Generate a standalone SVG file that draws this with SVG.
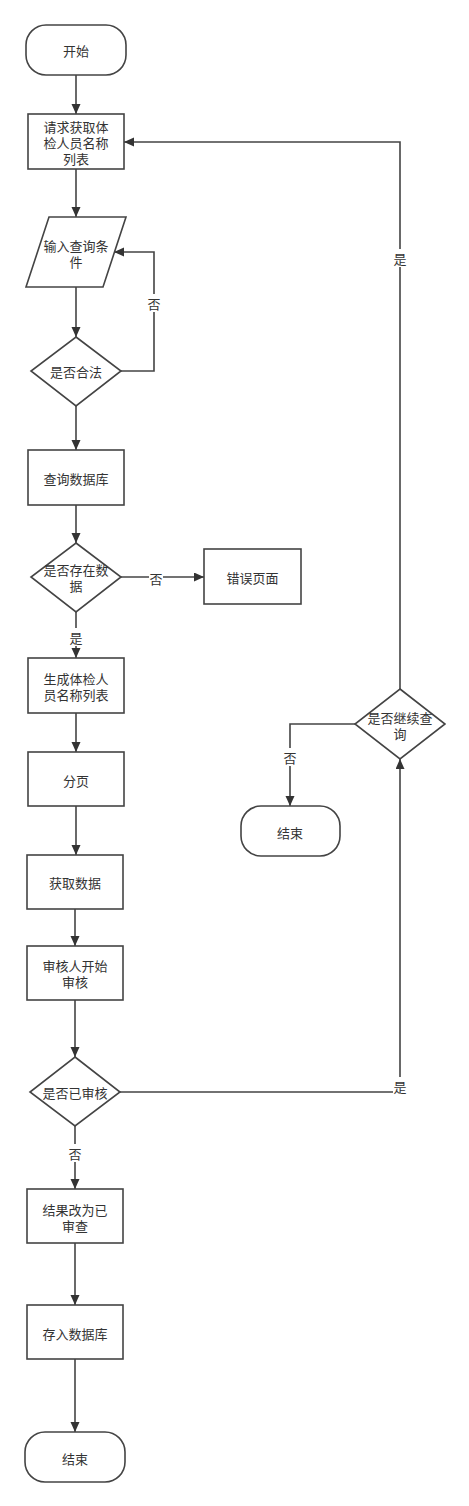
<svg xmlns="http://www.w3.org/2000/svg" width="469" height="1506" viewBox="0 0 469 1506">
<style>
.n{fill:#fff;stroke:#444;stroke-width:1.6}
.t{font-family:"Microsoft YaHei","Noto Sans CJK SC",sans-serif;font-size:13px;fill:#333;text-anchor:middle;dominant-baseline:central}
.e{fill:none;stroke:#444;stroke-width:1.6}
.lb{fill:#fff}
</style>
<defs>
<marker id="a" markerUnits="userSpaceOnUse" markerWidth="12" markerHeight="10" refX="10" refY="4.5" orient="auto">
<path d="M0,0 L10,4.5 L0,9 z" fill="#333"/>
</marker>
</defs>
<rect width="469" height="1506" fill="#fff"/>
<g id="edges">
<path class="e" d="M76,75 V114" marker-end="url(#a)"/>
<path class="e" d="M76,169 V217" marker-end="url(#a)"/>
<path class="e" d="M76,287 V337" marker-end="url(#a)"/>
<path class="e" d="M121,371 H154 V252 H114" marker-end="url(#a)"/>
<path class="e" d="M76,406 V450" marker-end="url(#a)"/>
<path class="e" d="M76,505 V543" marker-end="url(#a)"/>
<path class="e" d="M121,577 H204" marker-end="url(#a)"/>
<path class="e" d="M76,612 V658" marker-end="url(#a)"/>
<path class="e" d="M76,713 V752" marker-end="url(#a)"/>
<path class="e" d="M76,806 V855" marker-end="url(#a)"/>
<path class="e" d="M75,909 V946" marker-end="url(#a)"/>
<path class="e" d="M75,1000 V1057" marker-end="url(#a)"/>
<path class="e" d="M120,1092 H400 V759" marker-end="url(#a)"/>
<path class="e" d="M75,1126 V1189" marker-end="url(#a)"/>
<path class="e" d="M75,1243 V1305" marker-end="url(#a)"/>
<path class="e" d="M75,1359 V1432" marker-end="url(#a)"/>
<path class="e" d="M400,689 V142 H124" marker-end="url(#a)"/>
<path class="e" d="M355,724 H290 V806" marker-end="url(#a)"/>
<rect class="lb" x="147" y="294" width="14" height="18"/><text class="t" x="154" y="303">否</text>
<rect class="lb" x="149" y="569" width="14" height="18"/><text class="t" x="156" y="578">否</text>
<rect class="lb" x="69" y="628" width="14" height="18"/><text class="t" x="76" y="637">是</text>
<rect class="lb" x="68" y="1144" width="14" height="18"/><text class="t" x="75" y="1153">否</text>
<rect class="lb" x="393" y="1077" width="14" height="18"/><text class="t" x="400" y="1086">是</text>
<rect class="lb" x="393" y="249" width="14" height="18"/><text class="t" x="400" y="258">是</text>
<rect class="lb" x="283" y="748" width="14" height="18"/><text class="t" x="290" y="757">否</text>
</g>
<g id="start"><rect class="n" x="26" y="25" width="100" height="50" rx="20"/><text class="t" x="76" y="50">开始</text></g>
<g id="request"><rect class="n" x="28" y="114" width="96" height="55"/><text class="t" x="76" y="126">请求获取体</text><text class="t" x="76" y="142">检人员名称</text><text class="t" x="76" y="158">列表</text></g>
<g id="input"><polygon class="n" points="49,217 126,217 103,287 26,287"/><text class="t" x="76" y="245">输入查询条</text><text class="t" x="76" y="261">件</text></g>
<g id="valid"><polygon class="n" points="76,337 121,371 76,406 31,371"/><text class="t" x="76" y="371">是否合法</text></g>
<g id="querydb"><rect class="n" x="28" y="450" width="96" height="55"/><text class="t" x="76" y="478">查询数据库</text></g>
<g id="exists"><polygon class="n" points="76,543 121,577 76,612 31,577"/><text class="t" x="76" y="569">是否存在数</text><text class="t" x="76" y="585">据</text></g>
<g id="error"><rect class="n" x="204" y="549" width="97" height="55"/><text class="t" x="252.5" y="577">错误页面</text></g>
<g id="genlist"><rect class="n" x="28" y="658" width="96" height="55"/><text class="t" x="76" y="678">生成体检人</text><text class="t" x="76" y="694">员名称列表</text></g>
<g id="paging"><rect class="n" x="28" y="752" width="96" height="54"/><text class="t" x="76" y="780">分页</text></g>
<g id="getdata"><rect class="n" x="27" y="855" width="96" height="54"/><text class="t" x="75" y="882">获取数据</text></g>
<g id="review"><rect class="n" x="27" y="946" width="96" height="54"/><text class="t" x="75" y="965">审核人开始</text><text class="t" x="75" y="981">审核</text></g>
<g id="reviewed"><polygon class="n" points="75,1057 120,1092 75,1126 30,1092"/><text class="t" x="75" y="1092">是否已审核</text></g>
<g id="setresult"><rect class="n" x="27" y="1189" width="96" height="54"/><text class="t" x="75" y="1209">结果改为已</text><text class="t" x="75" y="1225">审查</text></g>
<g id="save"><rect class="n" x="27" y="1305" width="96" height="54"/><text class="t" x="75" y="1333">存入数据库</text></g>
<g id="end1"><rect class="n" x="25" y="1432" width="100" height="50" rx="20"/><text class="t" x="75" y="1458">结束</text></g>
<g id="continue"><polygon class="n" points="400,689 445,724 400,759 355,724"/><text class="t" x="400" y="717">是否继续查</text><text class="t" x="400" y="733">询</text></g>
<g id="end2"><rect class="n" x="241" y="806" width="99" height="50" rx="20"/><text class="t" x="290" y="832">结束</text></g>
</svg>
